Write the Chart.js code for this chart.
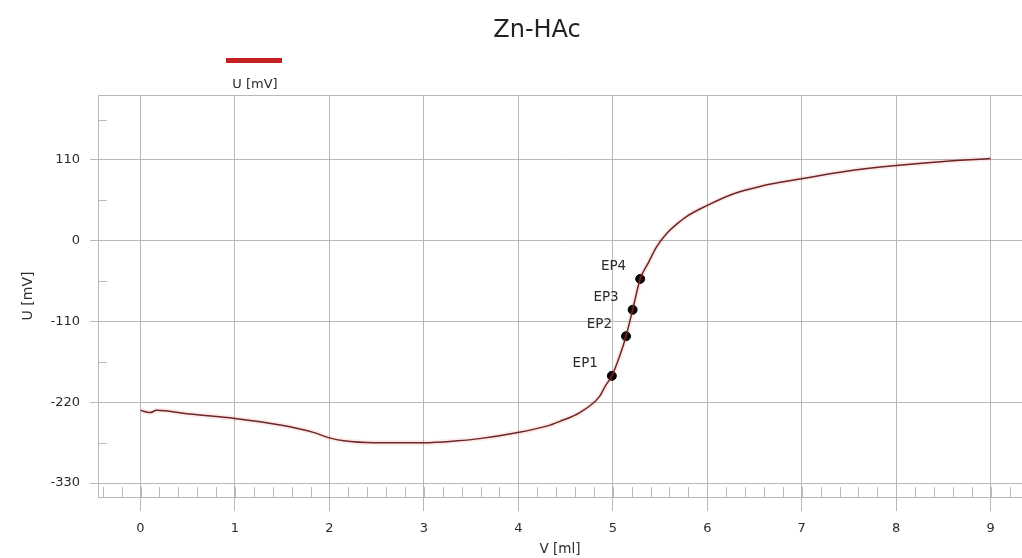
<!DOCTYPE html>
<html>
<head>
<meta charset="utf-8">
<title>Zn-HAc</title>
<script src="https://cdn.jsdelivr.net/npm/chart.js@4.4.0/dist/chart.umd.min.js"></script>
<style>
  html, body { margin: 0; padding: 0; background: #fff; }
</style>
</head>
<body>
<canvas id="myChart" width="1022" height="558"></canvas>
<script>
"use strict";
// Titration curve: added volume [ml] vs. potential [mV]
const volume = [0, 0.1, 0.17, 0.52, 1.0, 1.48, 1.83, 2.0, 2.15, 2.48, 3.0, 3.35, 3.59, 3.98, 4.3, 4.44, 4.65, 4.86, 4.92,
    4.99, 5.07, 5.14, 5.21, 5.29, 5.38, 5.465, 5.57, 5.67, 5.78, 5.99, 6.28, 6.56, 6.98, 7.44, 7.97, 8.5, 9.0];
const potential = [-231, -234, -231, -236, -242, -251, -261, -268.5, -272.5, -275, -275, -272.5, -269.5, -261.5, -252.5, -246, -234, -212, -198,
    -184, -158, -130, -94, -52, -29, -8, 10, 22, 33, 47.5, 64, 74, 84, 94, 102, 108, 112];

// Detected end points
const epVolume = [4.99, 5.14, 5.21, 5.29];
const epPotential = [-184, -130, -94, -52];
const epLabels = ["EP1", "EP2", "EP3", "EP4"];

// Axis ticks
const xTicks = [0, 1, 2, 3, 4, 5, 6, 7, 8, 9];
const yTicks = [-330, -220, -110, 0, 110];
const xMinorStep = 0.2;
const yMinorStep = 55;

const chartTitle = "Zn-HAc";
const seriesLabel = "U [mV]";

const FONT = "'DejaVu Sans', sans-serif";
const GRID = "#b9b9b9";
const TEXT = "#2b2b2b";
const LEGEND_RED = "#c42020";

const curve = volume.map((v, i) => ({ x: v, y: potential[i] }));
const endPoints = epVolume.map((v, i) => ({ x: v, y: epPotential[i] }));

// Minor ticks, top frame, end point labels, title and legend
const decorations = {
    id: "decorations",
    beforeDatasetsDraw(chart) {
        const { ctx, chartArea: a, scales: { x, y } } = chart;
        ctx.save();
        ctx.strokeStyle = GRID;
        ctx.lineWidth = 1;
        ctx.beginPath();
        ctx.moveTo(a.left, a.top + 0.5);
        ctx.lineTo(a.right, a.top + 0.5);
        for (let k = Math.ceil(x.min / xMinorStep); k * xMinorStep <= x.max; k++) {
            const px = Math.round(x.getPixelForValue(k * xMinorStep)) + 0.5;
            ctx.moveTo(px, a.bottom);
            ctx.lineTo(px, a.bottom - 10);
        }
        for (let v = yTicks[0] - yMinorStep; v < y.max; v += 2 * yMinorStep) {
            if (v <= y.min) continue;
            const py = Math.round(y.getPixelForValue(v)) + 0.5;
            ctx.moveTo(a.left, py);
            ctx.lineTo(a.left + 9, py);
        }
        ctx.stroke();
        ctx.restore();
    },
    afterDraw(chart) {
        const { ctx } = chart;
        ctx.save();
        ctx.fillStyle = TEXT;

        // end point labels, up and left of each marker
        const meta = chart.getDatasetMeta(2);
        ctx.font = "13.5px " + FONT;
        ctx.textAlign = "right";
        ctx.textBaseline = "middle";
        meta.data.forEach((pt, i) => {
            ctx.fillText(epLabels[i], pt.x - 14, pt.y - 12);
        });

        // title
        ctx.font = "24px " + FONT;
        ctx.textAlign = "center";
        ctx.fillStyle = "#222";
        ctx.fillText(chartTitle, 537, 31);

        // legend: swatch above its label
        ctx.fillStyle = LEGEND_RED;
        ctx.fillRect(226, 58, 56, 5);
        ctx.fillStyle = TEXT;
        ctx.font = "13px " + FONT;
        ctx.fillText(seriesLabel, 255, 85);
        ctx.restore();
    },
};

const data = {
    datasets: [
        {
            // soft glow under the curve
            label: "",
            data: curve,
            borderColor: "rgba(220, 80, 80, 0.12)",
            borderWidth: 5,
            pointRadius: 0,
            cubicInterpolationMode: "monotone",
        },
        {
            label: seriesLabel,
            data: curve,
            borderColor: "#5e1f1f",
            borderWidth: 1.5,
            pointRadius: 0,
            cubicInterpolationMode: "monotone",
        },
        {
            label: "EP",
            data: endPoints,
            showLine: false,
            pointRadius: 4.5,
            pointBackgroundColor: "#000",
            pointBorderColor: "#000",
        },
    ],
};

const config = {
    type: "line",
    data: data,
    options: {
        responsive: false,
        animation: false,
        devicePixelRatio: 1,
        layout: {
            padding: { top: 95, right: 0, bottom: 0, left: 0 },
            autoPadding: false,
        },
        scales: {
            x: {
                type: "linear",
                position: "bottom",
                min: -0.45,
                max: 9.332,
                afterBuildTicks: (s) => { s.ticks = xTicks.map((v) => ({ value: v })); },
                afterFit: (s) => { s.height = 61; },
                grid: { color: GRID, tickLength: 14 },
                border: { color: GRID },
                ticks: { color: TEXT, padding: 10, maxRotation: 0, font: { family: FONT, size: 13 } },
                title: {
                    display: true,
                    text: "V [ml]",
                    color: TEXT,
                    padding: { top: 0, bottom: 0 },
                    font: { family: FONT, size: 13.5 },
                },
            },
            y: {
                type: "linear",
                min: -349,
                max: 198.5,
                afterBuildTicks: (s) => { s.ticks = yTicks.map((v) => ({ value: v })); },
                afterFit: (s) => { s.width = 98; },
                grid: { color: GRID, tickLength: 8 },
                border: { color: GRID },
                ticks: { color: TEXT, padding: 10, font: { family: FONT, size: 13 } },
                title: {
                    display: true,
                    text: "U [mV]",
                    color: TEXT,
                    padding: { top: 20, bottom: 0 },
                    font: { family: FONT, size: 14 },
                },
            },
        },
        plugins: {
            legend: { display: false },
            title: { display: false },
            tooltip: { enabled: false },
        },
    },
    plugins: [decorations],
};

const myChart = new Chart(document.getElementById("myChart"), config);
</script>
</body>
</html>
